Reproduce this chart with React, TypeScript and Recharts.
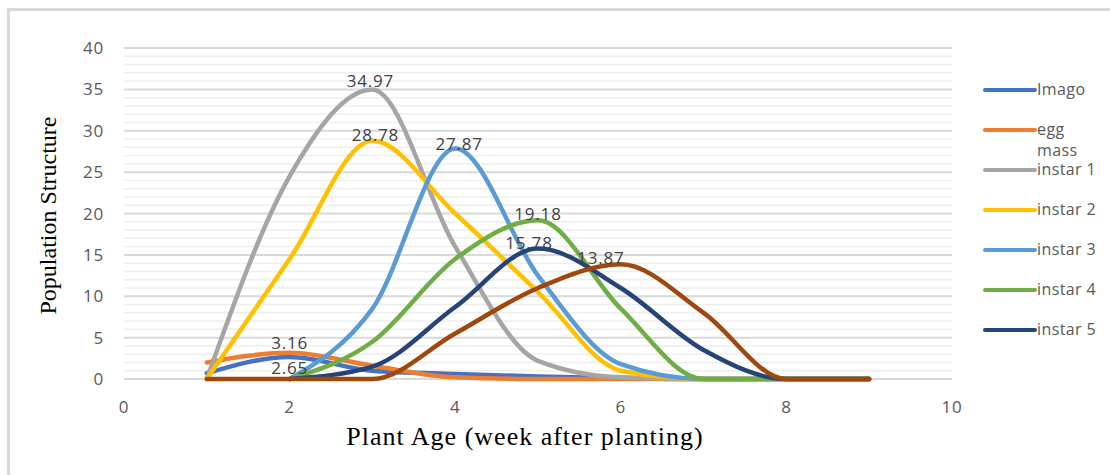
import React from 'react';
import { LineChart, Line, XAxis, YAxis, CartesianGrid, Legend, LabelList, Label, ReferenceLine } from 'recharts';

const weeks = [1, 2, 3, 4, 5, 6, 7, 8, 9];
const imago = [0.7, 2.65, 1.0, 0.6, 0.3, 0.1, 0, 0, 0];
const eggMass = [2.0, 3.16, 1.6, 0.2, 0, 0, 0, 0, 0];
const instar1 = [0, 24.5, 34.97, 16, 2.2, 0.2, 0, 0, 0];
const instar2 = [0, 14.5, 28.78, 20, 10.5, 1, 0, 0, 0];
const instar3 = [null, 0, 8.5, 27.87, 12.5, 1.8, 0, 0, 0];
const instar4 = [null, 0, 4.5, 14.5, 19.18, 8.5, 0, 0, 0];
const instar5 = [null, 0, 1.5, 8.7, 15.78, 11, 3.5, 0, 0];
const instar6 = [0, 0, 0, 5.5, 11, 13.87, 8, 0, 0];

const xTicks = [0, 2, 4, 6, 8, 10];
const yTicks = [0, 5, 10, 15, 20, 25, 30, 35, 40];
const minorTicks = Array.from({ length: 41 }, (_, i) => i).filter((v) => v % 5 !== 0);

const data = weeks.map((w, i) => ({
  week: w,
  imago: imago[i],
  egg: eggMass[i],
  i1: instar1[i],
  i2: instar2[i],
  i3: instar3[i],
  i4: instar4[i],
  i5: instar5[i],
  i6: instar6[i],
}));

const series = [
  { key: 'imago', name: 'Imago', color: '#4472C4', label: 1, dx: 0, dy: 10 },
  { key: 'egg', name: 'egg mass', color: '#ED7D31', label: 1, dx: 0, dy: -10 },
  { key: 'i1', name: 'instar 1', color: '#A5A5A5', label: 2, dx: -2, dy: -9 },
  { key: 'i2', name: 'instar 2', color: '#FFC000', label: 2, dx: 3, dy: -6 },
  { key: 'i3', name: 'instar 3', color: '#5B9BD5', label: 3, dx: 4, dy: -5 },
  { key: 'i4', name: 'instar 4', color: '#70AD47', label: 4, dx: 0, dy: -7 },
  { key: 'i5', name: 'instar 5', color: '#264478', label: 4, dx: -9, dy: -6 },
  { key: 'i6', name: 'instar 6', color: '#9E480E', label: 5, dx: -20, dy: -7 },
];

const FONT = '"Open Sans", sans-serif';

const makeLabel = (idx: number, dx: number, dy: number) => (props: any) => {
  if (props.index !== idx || props.value == null) return null;
  return (
    <text
      x={props.x + dx}
      y={props.y + dy}
      textAnchor="middle"
      dominantBaseline="central"
      fontFamily={FONT}
      fontSize={17}
      letterSpacing={0.8}
      fill="#404040"
    >
      {props.value}
    </text>
  );
};

const LegendContent = (props: any) => {
  const items = (props.payload || []).filter((p: any) => p.value !== 'instar 6');
  return (
    <div style={{ position: 'relative', width: 130, height: 280 }}>
      {items.map((p: any, i: number) => (
        <div
          key={p.value}
          style={{ position: 'absolute', left: 0, top: i * 40 - 11, display: 'flex', alignItems: 'flex-start' }}
        >
          <div style={{ width: 54, height: 4, borderRadius: 2, background: p.color, marginTop: 9 }} />
          <div
            style={{
              fontFamily: FONT,
              fontSize: 16,
              lineHeight: '21px',
              color: '#595959',
              width: 68,
              letterSpacing: 0.4,
              whiteSpace: 'normal',
            }}
          >
            {p.value}
          </div>
        </div>
      ))}
    </div>
  );
};

const YTitle = (props: any) => {
  const vb = props.viewBox;
  const cx = vb.x + 24;
  const cy = vb.y + vb.height / 2 + 2;
  return (
    <text
      x={cx}
      y={cy}
      transform={`rotate(-90 ${cx} ${cy})`}
      textAnchor="middle"
      dominantBaseline="central"
      fontFamily='"Liberation Serif", serif'
      fontSize={24}
      fill="#000"
    >
      Population Structure
    </text>
  );
};

const XTitle = (props: any) => {
  const vb = props.viewBox;
  const cx = vb.x + vb.width / 2 - 13;
  const cy = 436;
  return (
    <text
      x={cx}
      y={cy}
      textAnchor="middle"
      dominantBaseline="central"
      fontFamily='"Liberation Serif", serif'
      fontSize={26}
      letterSpacing={1}
      fill="#000"
    >
      Plant Age (week after planting)
    </text>
  );
};

export default function App() {
  return (
    <div style={{ position: 'absolute', left: 0, top: 0, width: 1110, height: 475, background: '#fff' }}>
      <div
        style={{
          position: 'absolute',
          left: 7,
          top: 8,
          width: 1103,
          height: 467,
          borderLeft: '3px solid #d9d9d9',
          borderTop: '3px solid #d9d9d9',
          boxSizing: 'border-box',
        }}
      />
      <div style={{ position: 'absolute', left: 0, top: 0 }}>
        <LineChart width={1110} height={475} data={data} margin={{ top: 48, right: 28, bottom: 26, left: 24 }}>
          {minorTicks.map((v) => (
            <ReferenceLine key={'m' + v} y={v} stroke="#eeeeee" strokeWidth={1.5} ifOverflow="hidden" />
          ))}
          <CartesianGrid vertical={false} stroke="#d9d9d9" strokeWidth={2} />
          <XAxis
            dataKey="week"
            type="number"
            domain={[0, 10]}
            ticks={xTicks}
            interval={0}
            axisLine={false}
            tickLine={false}
            tickSize={0}
            tickMargin={22}
            height={70}
            tick={{ fontFamily: FONT, fontSize: 17, fill: '#595959', letterSpacing: 0.8 }}
          >
            <Label content={<XTitle />} />
          </XAxis>
          <YAxis
            type="number"
            domain={[0, 40]}
            ticks={yTicks}
            interval={0}
            axisLine={false}
            tickLine={false}
            tickSize={0}
            tickMargin={20}
            width={100}
            tick={{ fontFamily: FONT, fontSize: 17, fill: '#595959', letterSpacing: 0.8 }}
          >
            <Label content={<YTitle />} />
          </YAxis>
          <Legend
            layout="vertical"
            align="right"
            verticalAlign="middle"
            content={<LegendContent />}
            wrapperStyle={{ position: 'absolute', left: 983, top: 90, width: 130, height: 280 }}
          />
          {series.map((s) => (
            <Line
              key={s.key}
              dataKey={s.key}
              name={s.name}
              type="monotone"
              stroke={s.color}
              strokeWidth={4.5}
              strokeLinecap="round"
              dot={false}
              activeDot={false}
              isAnimationActive={false}
              legendType={s.key === 'i6' ? 'none' : 'line'}
            >
              <LabelList dataKey={s.key} content={makeLabel(s.label, s.dx, s.dy)} />
            </Line>
          ))}
        </LineChart>
      </div>
    </div>
  );
}
